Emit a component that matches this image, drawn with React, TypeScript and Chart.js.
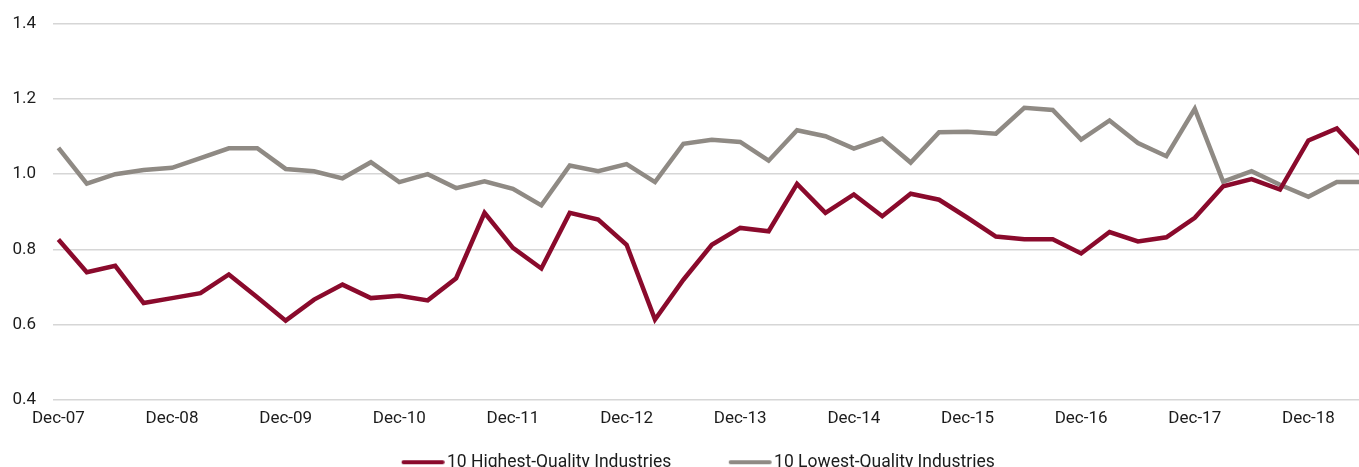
import React, { useEffect, useRef } from 'react';
import { Chart, registerables } from 'chart.js';

Chart.register(...registerables);

// Quarter-end dates (one per data point)
const quarters: string[] = [
  'Dec-07', 'Mar-08', 'Jun-08', 'Sep-08',
  'Dec-08', 'Mar-09', 'Jun-09', 'Sep-09',
  'Dec-09', 'Mar-10', 'Jun-10', 'Sep-10',
  'Dec-10', 'Mar-11', 'Jun-11', 'Sep-11',
  'Dec-11', 'Mar-12', 'Jun-12', 'Sep-12',
  'Dec-12', 'Mar-13', 'Jun-13', 'Sep-13',
  'Dec-13', 'Mar-14', 'Jun-14', 'Sep-14',
  'Dec-14', 'Mar-15', 'Jun-15', 'Sep-15',
  'Dec-15', 'Mar-16', 'Jun-16', 'Sep-16',
  'Dec-16', 'Mar-17', 'Jun-17', 'Sep-17',
  'Dec-17', 'Mar-18', 'Jun-18', 'Sep-18',
  'Dec-18', 'Mar-19', 'Jun-19',
];

// 10 Highest-Quality Industries
const highQuality: number[] = [
  0.826, 0.739, 0.756, 0.657,
  0.670, 0.683, 0.733, 0.672,
  0.610, 0.666, 0.706, 0.670,
  0.676, 0.664, 0.723, 0.897,
  0.804, 0.749, 0.897, 0.879,
  0.812, 0.613, 0.719, 0.812,
  0.857, 0.848, 0.974, 0.897,
  0.946, 0.888, 0.948, 0.932,
  0.884, 0.834, 0.827, 0.827,
  0.789, 0.846, 0.821, 0.832,
  0.884, 0.968, 0.987, 0.959,
  1.090, 1.122, 1.040,
];

// 10 Lowest-Quality Industries
const lowQuality: number[] = [
  1.070, 0.975, 1.000, 1.011,
  1.017, 1.043, 1.069, 1.069,
  1.014, 1.008, 0.989, 1.032,
  0.979, 1.000, 0.963, 0.981,
  0.961, 0.917, 1.023, 1.008,
  1.027, 0.979, 1.081, 1.092,
  1.086, 1.036, 1.117, 1.101,
  1.068, 1.095, 1.031, 1.112,
  1.113, 1.108, 1.177, 1.171,
  1.092, 1.143, 1.083, 1.048,
  1.174, 0.980, 1.008, 0.972,
  0.940, 0.979, 0.979,
];

const xTickLabels: string[] = [
  'Dec-07', 'Dec-08', 'Dec-09', 'Dec-10', 'Dec-11', 'Dec-12',
  'Dec-13', 'Dec-14', 'Dec-15', 'Dec-16', 'Dec-17', 'Dec-18',
];

const seriesNames: string[] = ['10 Highest-Quality Industries', '10 Lowest-Quality Industries'];
const seriesColors: string[] = ['#8a0a2c', '#8f8a84'];

const CANVAS_W = 1380;
const CANVAS_H = 481;
const FONT = 'Roboto, "Noto Sans", sans-serif';
const TEXT = '#1c1c1c';
const AXIS_FONT_SIZE = 17;
const LEGEND_FONT_SIZE = 17.5;

function makeSwatch(color: string): HTMLCanvasElement {
  const c = document.createElement('canvas');
  c.width = 53;
  c.height = 8;
  const ctx = c.getContext('2d')!;
  ctx.strokeStyle = color;
  ctx.lineWidth = 4;
  ctx.lineCap = 'round';
  ctx.beginPath();
  ctx.moveTo(11.75, 4);
  ctx.lineTo(50.75, 4);
  ctx.stroke();
  return c;
}

export default function App() {
  const ref = useRef<HTMLCanvasElement>(null);

  useEffect(() => {
    document.documentElement.style.overflow = 'hidden';
    document.body.style.margin = '0';
    document.body.style.overflow = 'hidden';
    if (!ref.current) return;

    const swatches = seriesColors.map(makeSwatch);
    const tickValues = xTickLabels.map((l) => quarters.indexOf(l));

    const chart = new Chart(ref.current, {
      type: 'line',
      data: {
        datasets: [
          {
            label: seriesNames[0],
            data: highQuality.map((v, i) => ({ x: i, y: v })),
            borderColor: seriesColors[0],
            backgroundColor: seriesColors[0],
            borderWidth: 4.5,
            pointRadius: 0,
            tension: 0,
          },
          {
            label: seriesNames[1],
            data: lowQuality.map((v, i) => ({ x: i, y: v })),
            borderColor: seriesColors[1],
            backgroundColor: seriesColors[1],
            borderWidth: 4.5,
            pointRadius: 0,
            tension: 0,
          },
        ],
      },
      options: {
        responsive: false,
        animation: false,
        events: [],
        layout: { padding: { left: 13, top: 24, right: 0, bottom: 0 } },
        scales: {
          x: {
            type: 'linear',
            min: -0.19,
            max: 46.52,
            grid: { display: false, drawTicks: false },
            border: { display: false },
            afterBuildTicks: (axis: any) => {
              axis.ticks = tickValues.map((v) => ({ value: v }));
            },
            afterFit: (scale: any) => {
              scale.height = 0;
            },
            ticks: {
              autoSkip: false,
              maxRotation: 0,
              mirror: true,
              padding: -29.2,
              color: TEXT,
              font: { family: FONT, size: AXIS_FONT_SIZE },
              callback: (value: any) => quarters[Math.round(Number(value))] ?? '',
            },
          },
          y: {
            min: 0.4,
            max: 1.4,
            grid: { color: '#d6d6d6', lineWidth: 1.5, drawTicks: false },
            border: { display: false },
            afterFit: (scale: any) => {
              scale.width = 40;
              scale.paddingTop = 0;
              scale.paddingBottom = 0;
            },
            ticks: {
              stepSize: 0.2,
              padding: 17,
              color: TEXT,
              font: { family: FONT, size: AXIS_FONT_SIZE },
              callback: (value: any) => Number(value).toFixed(1),
            },
          },
        },
        plugins: {
          tooltip: { enabled: false },
          legend: {
            position: 'bottom',
            labels: {
              usePointStyle: true,
              pointStyleWidth: 40,
              padding: 54,
              color: TEXT,
              font: { family: FONT, size: LEGEND_FONT_SIZE },
              generateLabels: (c: any) =>
                Chart.defaults.plugins.legend.labels
                  .generateLabels(c)
                  .map((l: any, i: number) => ({ ...l, pointStyle: swatches[i] })),
            },
          },
        },
      },
    } as any);

    return () => chart.destroy();
  }, []);

  return (
    <div style={{ width: CANVAS_W, height: CANVAS_H }}>
      <canvas ref={ref} width={CANVAS_W} height={CANVAS_H} style={{ display: 'block' }} />
    </div>
  );
}
